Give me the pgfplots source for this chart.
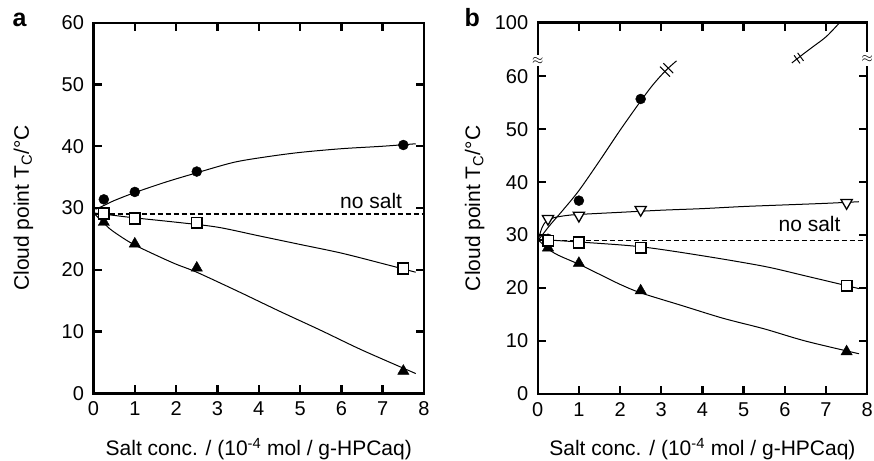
\documentclass[border=0pt]{standalone}
\usepackage{pgfplots}
\pgfplotsset{compat=1.18}
\usepackage{fontspec}
\setmainfont{Liberation Sans}

\pgfplotsset{
  salt/.style={
    scale only axis, clip=false,
    xmin=0, xmax=8, xtick={0,...,8},
    tick align=inside,
    major tick length=8pt,
    axis line style={line width=2.4pt},
    every tick/.style={black, line width=2.4pt},
    tick label style={font=\fontsize{20}{22}\selectfont},
    /pgf/number format/assume math mode=true,
    yticklabel style={xshift=-6pt},
    xticklabel style={yshift=-5pt},
    label style={font=\fontsize{21}{24}\selectfont},
    xlabel={Salt conc. / (10\textsuperscript{-4} mol / g-HPCaq)},
    ylabel={Cloud point T\textsubscript{C}/°C},
  },
  fit/.style={black, line width=1pt, smooth, no markers},
  dot/.style={only marks, mark=*, mark size=5pt, black},
  sq/.style={only marks, mark=square*, mark size=5.3pt,
    mark options={fill=white, draw=black, line width=1.6pt}},
  tri/.style={only marks, mark=triangle*, mark size=6.5pt, black},
  trid/.style={only marks, mark=triangle*, mark size=6.5pt,
    mark options={rotate=180, fill=white, draw=black, line width=1.3pt}},
  nosalt/.style={black, line width=1.5pt, dash pattern=on 5pt off 3pt},
}

\begin{document}
\begin{tikzpicture}[x=1pt,y=1pt]
\useasboundingbox (0,0) rectangle (874,-460);

% ---- panel a ----
\begin{axis}[salt, at={(93.5pt,-393.3pt)}, anchor=south west,
  width=330.5pt, height=370.6pt,
  ymin=0, ymax=60, ytick={0,10,...,60},
  ylabel style={at={(axis description cs:-0.212,0.5)}, anchor=center},
  xlabel style={at={(axis description cs:0.5,-0.151)}, anchor=center}]
  \addplot[nosalt] coordinates {(0,29) (8,29)};
  % fitted curves
  \addplot[fit] coordinates {(0.05,29.8) (0.25,30.4) (0.5,31.2) (1,32.5) (1.75,34.2)
    (2.5,35.7) (3.4,37.4) (4.2,38.3) (5,39.0) (6,39.6) (7,40.0) (7.8,40.4)};
  \addplot[fit] coordinates {(0,29.2) (0.5,28.8) (1,28.4) (2,27.7) (3,26.9) (4,25.5)
    (5,24.1) (6,22.7) (7,21.0) (7.8,19.6)};
  \addplot[fit] coordinates {(0,29.2) (0.2,27.9) (0.4,26.6) (0.7,25.2) (1,24.0) (1.5,22.4)
    (2,20.9) (2.5,19.6) (3.5,16.5) (4.5,13.3) (5.5,10.2) (6.5,7.0) (7.8,3.2)};
  % measured points
  \addplot[dot] coordinates {(0.25,31.4) (1,32.6) (2.5,35.9) (7.5,40.2)};
  \addplot[tri] coordinates {(0.25,27.7) (1,24.2) (2.5,20.3) (7.5,3.6)};
  \addplot[sq] coordinates {(0.25,29.1) (1,28.3) (2.5,27.6) (7.5,20.2)};
  \node[font=\fontsize{21}{22}\selectfont, anchor=base] at (axis cs:6.72,30.0) {no salt};
\end{axis}
\node[font=\bfseries\fontsize{25}{25}\selectfont, anchor=base west] at (9,-27) {a};

% ---- panel b ----
\begin{axis}[salt, at={(537.7pt,-394pt)}, anchor=south west,
  width=329.5pt, height=371.3pt,
  ymin=0, ymax=70.1, ytick={0,10,20,30,40,50,60,70.1},
  yticklabels={0,10,20,30,40,50,60,100},
  ylabel style={at={(axis description cs:-0.191,0.5)}, anchor=center},
  xlabel style={at={(axis description cs:0.5,-0.148)}, anchor=center}]
  \addplot[nosalt] coordinates {(0,29) (8,29)};
  % fitted curves
  \addplot[fit] coordinates {(0.03,29.2) (0.3,31.9) (0.6,34.6) (1.0,38.4) (1.5,44.0)
    (2.0,49.8) (2.5,55.3) (2.8,58.4) (3.1,61.0) (3.37,62.9)};
  \addplot[fit] coordinates {(6.17,62.5) (6.45,64.2) (6.69,65.6) (7.01,67.5) (7.33,70.1)};
  \addplot[fit] coordinates {(0.02,29.3) (0.1,31.3) (0.2,32.6) (0.4,33.3) (0.7,33.7) (1,33.9)
    (2,34.3) (3,34.7) (4,35.0) (5,35.4) (6,35.7) (7,36.0) (7.8,36.3)};
  \addplot[fit] coordinates {(0,29.2) (1,28.7) (2.5,27.8) (4,26.1) (5.5,24.1) (6.5,22.3) (7.8,19.9)};
  \addplot[fit] coordinates {(0,29.2) (0.25,27.4) (0.5,26.2) (1,24.5) (1.5,22.6) (2,20.7)
    (2.5,19.1) (3.5,16.7) (4.5,14.3) (5.5,12.3) (6.5,10.0) (7.8,7.6)};
  % break marks on the steep curve
  \addplot[black, line width=1pt] coordinates {(2.97,61.81) (3.21,59.92)};
  \addplot[black, line width=1pt] coordinates {(3.05,62.45) (3.29,60.57)};
  \addplot[black, line width=1pt] coordinates {(6.225,63.94) (6.369,62.41)};
  \addplot[black, line width=1pt] coordinates {(6.311,64.41) (6.454,62.88)};
  % measured points
  \addplot[dot] coordinates {(0.25,29.3) (1,36.5) (2.5,55.7)};
  \addplot[trid] coordinates {(0.25,33.1) (1,33.7) (2.5,34.8) (7.5,36.1)};
  \addplot[tri] coordinates {(0.25,27.6) (1,24.7) (2.5,19.5) (7.5,8.0)};
  \addplot[sq] coordinates {(0.25,28.9) (1,28.6) (2.5,27.6) (7.5,20.4)};
  \node[font=\fontsize{21}{22}\selectfont, anchor=base] at (axis cs:6.6,30.6) {no salt};
  % axis breaks
  \fill[white] (axis cs:-0.09,61.9) rectangle (axis cs:0.09,64.0);
  \fill[white] (axis cs:7.91,62.0) rectangle (axis cs:8.09,64.5);
  \node[font=\fontsize{15}{15}\selectfont, inner sep=0pt] at (axis cs:0,62.9) {$\approx$};
  \node[font=\fontsize{15}{15}\selectfont, inner sep=0pt] at (axis cs:8,63.2) {$\approx$};
\end{axis}
\node[font=\bfseries\fontsize{25}{25}\selectfont, anchor=base west] at (461,-27) {b};
\end{tikzpicture}
\end{document}
